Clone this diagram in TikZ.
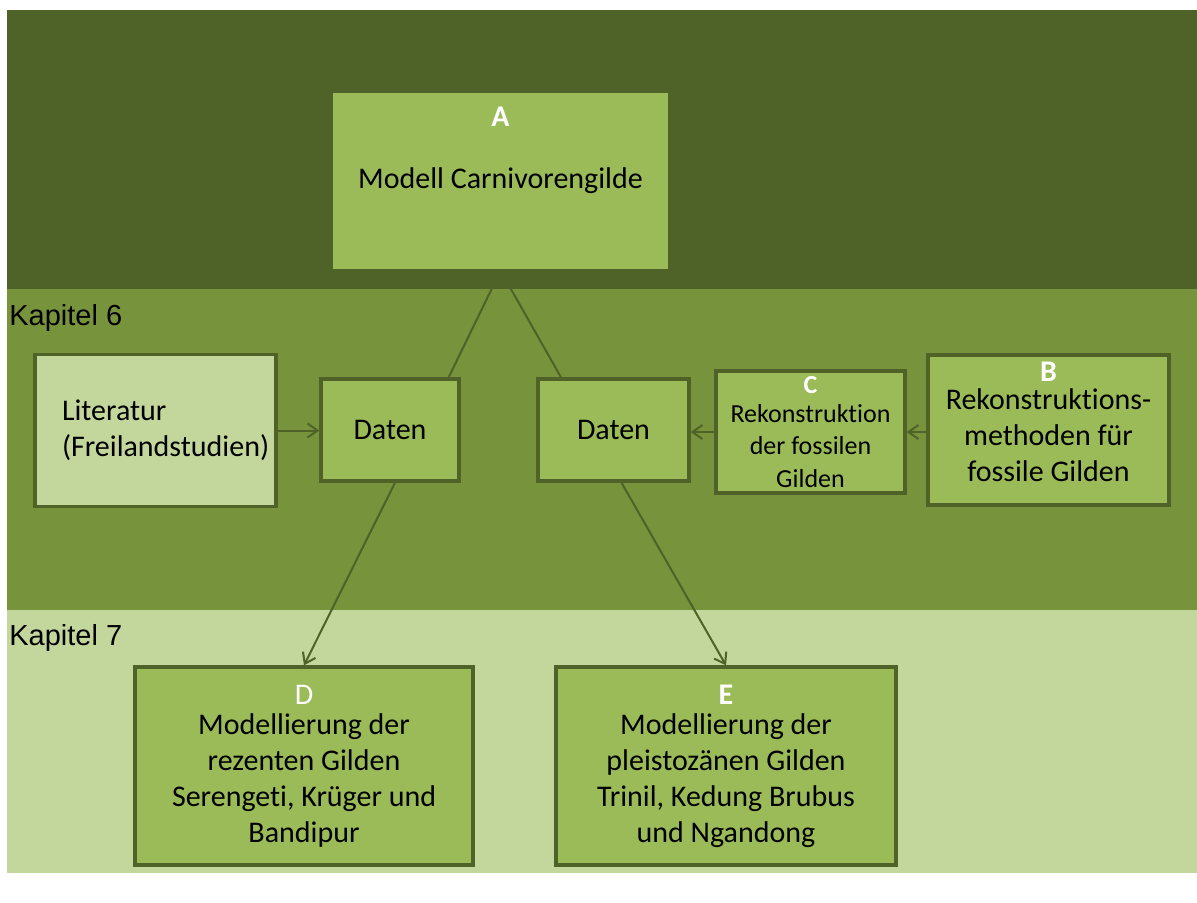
\documentclass[tikz,border=0pt]{standalone}
\usepackage{fontspec}
\setmainfont{Carlito}[Ligatures=NoCommon]
\newfontfamily\kapfont{Liberation Sans}
\usetikzlibrary{arrows.meta, positioning, calc}
\definecolor{olivedark}{HTML}{4F6228}
\definecolor{olivemid}{HTML}{77933C}
\definecolor{olivelight}{HTML}{C3D69B}
\definecolor{olivebox}{HTML}{9BBB59}
\newcommand{\lettr}[1]{\textcolor{white}{\bfseries #1}}

\begin{document}
\begin{tikzpicture}[
        x=0.5pt, y=-0.5pt,
        box/.style={rectangle, draw=olivedark, line width=1.7pt, fill=olivebox, align=center, inner sep=2pt, font=\fontsize{15}{18}\selectfont},
        smallbox/.style={box, font=\fontsize{13}{16.3}\selectfont},
        letter/.style={text=white, font=\fontsize{15}{18}\selectfont\bfseries},
        kapitel/.style={anchor=west, inner sep=1pt, font=\kapfont\fontsize{14.5}{16}\selectfont},
        flow/.style={draw=olivedark, line width=1pt, -{Straight Barb[length=5pt, width=7pt]}},
        link/.style={draw=olivedark, line width=1pt}
    ]
        % Hintergrund
        \fill[white] (0,0) rectangle (1197,902);
        \useasboundingbox (0,0) rectangle (1197,902);
        \fill[olivedark] (7,10) rectangle (1197,289);
        \fill[olivemid] (7,289) rectangle (1197,610);
        \fill[olivelight] (7,610) rectangle (1197,873);

        \node[kapitel] (kap6) at (7,318) {Kapitel 6};
        \node[kapitel] (kap7) at (7,638) {Kapitel 7};

        % Boxen
        \node[box, draw=none, minimum width=167.5pt, minimum height=88pt,
            label={[letter, anchor=north, yshift=-4.5pt]north:A}] (modell) at (500.5,181) {Modell Carnivorengilde};
        \node[box, fill=olivelight, align=left, text width=93.5pt, minimum width=120.5pt, minimum height=76pt] (lit) at (155.5,430.5) {Literatur\\(Freilandstudien)};
        \node[box, minimum width=69pt, minimum height=51pt] (daten1) at (390,430) {Daten};
        \node[box, minimum width=75.5pt, minimum height=51pt] (daten2) at (613.5,430) {Daten};
        \node[smallbox, minimum width=94.5pt, minimum height=61pt] (rekon) at (810.5,432) {\lettr{C}\\[-2pt]Rekonstruktion\\der fossilen\\Gilden};
        \node[box, text depth=8pt, minimum width=120.5pt, minimum height=75pt] (methoden) at (1048.5,430) {\lettr{B}\\[-4pt]Rekonstruktions-\\methoden für\\fossile Gilden};
        \node[box, minimum width=169pt, minimum height=99pt] (rezent) at (304,766) {\textcolor{white}{D}\\[-3pt]Modellierung der\\rezenten Gilden\\Serengeti, Krüger und\\Bandipur};
        \node[box, minimum width=170pt, minimum height=99pt] (pleisto) at (726,766) {\lettr{E}\\[-3pt]Modellierung der\\pleistozänen Gilden\\Trinil, Kedung Brubus\\und Ngandong};

        % Verbindungen
        \begin{scope}
            \clip (7,289) rectangle (1197,873);
            \draw[link] (modell.south) -- ($(daten1.north)!0.83!(daten1.north east)$);
            \draw[link] (modell.south) -- ($(daten2.north)!0.68!(daten2.north west)$);
        \end{scope}
        \draw[flow] (lit.east) -- (lit.east -| daten1.west);
        \draw[flow] (rekon.west) -- (rekon.west -| daten2.east);
        \draw[flow] (methoden.west |- rekon.east) -- (rekon.east);
        \draw[flow] ($(daten1.south)+(5,0)$) -- (rezent.north);
        \draw[flow] ($(daten2.south)+(8,0)$) -- (pleisto.north);
    \end{tikzpicture}
\end{document}
